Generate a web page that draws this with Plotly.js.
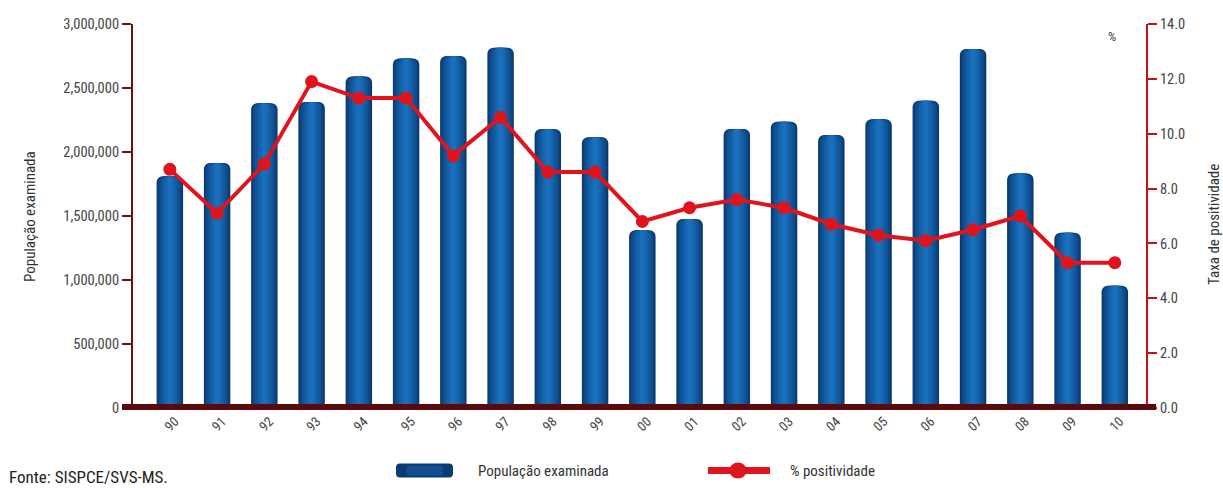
<!DOCTYPE html>
<html>
<head>
<meta charset="utf-8">
<script src="https://cdn.plot.ly/plotly-3.0.1.min.js"></script>
<style>
  html, body { margin: 0; padding: 0; background: #fff; }
  #chart { width: 1223px; height: 488px; }
</style>
</head>
<body>
<div id="chart"></div>
<script>
// Anos (dois dígitos) de 1990 a 2010
const anos = ['90','91','92','93','94','95','96','97','98','99','00',
              '01','02','03','04','05','06','07','08','09','10'];

// População examinada (eixo esquerdo)
const populacao = [1810000, 1915000, 2380000, 2390000, 2590000, 2730000, 2750000,
                   2815000, 2180000, 2115000, 1388000, 1477000, 2180000, 2237000,
                   2133000, 2255000, 2400000, 2805000, 1833000, 1370000, 955000];

// Taxa de positividade em % (eixo direito)
const positividade = [8.7, 7.1, 8.9, 11.9, 11.3, 11.3, 9.2, 10.6, 8.6, 8.6, 6.8,
                      7.3, 7.6, 7.3, 6.7, 6.3, 6.1, 6.5, 7.0, 5.3, 5.3];

const FONT = 'Liberation Sans Narrow, Arial Narrow, Roboto Condensed, Liberation Sans, Arial, sans-serif';

// Área de plotagem em pixels (para posicionar legenda e textos em coordenadas "paper")
const PL = 133, PW = 1013, PB = 408, PH = 384;
const px = v => (v - PL) / PW;
const py = v => (PB - v) / PH;

// Barras em camadas sobrepostas, da mais larga (escura) à mais estreita (clara),
// para simular o degradê horizontal de cada coluna.
const camadas = [
  { w: 0.56, c: '#0c3b72' },
  { w: 0.48, c: '#0e4886' },
  { w: 0.40, c: '#105496' },
  { w: 0.30, c: '#135ea6' },
  { w: 0.20, c: '#1667b2' },
  { w: 0.10, c: '#1a6fbb' }
];

const traces = camadas.map(k => ({
  type: 'bar',
  x: anos,
  y: populacao,
  width: anos.map(() => k.w),
  marker: { color: k.c, line: { width: 0 } },
  hoverinfo: 'skip',
  showlegend: false,
  yaxis: 'y'
}));

traces.push({
  type: 'scatter',
  mode: 'lines+markers',
  x: anos,
  y: positividade,
  yaxis: 'y2',
  line: { color: '#e0141c', width: 4 },
  marker: { color: '#e0141c', size: 13 },
  hoverinfo: 'skip',
  showlegend: false
});

// amostra arredondada da barra na legenda (em pixels, centrada na âncora)
const amostra = (w, h, r) => {
  const a = w / 2, b = h / 2;
  return `M${-a + r},${-b} H${a - r} Q${a},${-b} ${a},${-b + r} V${b - r} ` +
         `Q${a},${b} ${a - r},${b} H${-a + r} Q${-a},${b} ${-a},${b - r} ` +
         `V${-b + r} Q${-a},${-b} ${-a + r},${-b} Z`;
};

const TICKFONT = { family: FONT, size: 14.5, color: '#444444' };

const layout = {
  width: 1223,
  height: 488,
  margin: { l: PL, r: 1223 - PL - PW, t: PB - PH, b: 488 - PB },
  paper_bgcolor: '#ffffff',
  plot_bgcolor: '#ffffff',
  font: { family: FONT, size: 12, color: '#333333' },
  barmode: 'overlay',
  barcornerradius: 6,
  showlegend: false,
  xaxis: {
    type: 'category',
    range: [-0.78, 20.66],
    tickangle: -45,
    ticks: '',
    ticklabelshift: 5,
    ticklabelstandoff: 2,
    showgrid: false,
    zeroline: false,
    showline: false,
    tickfont: { family: FONT, size: 13.5, color: '#444444' },
    fixedrange: true
  },
  yaxis: {
    range: [0, 3000000],
    tickvals: [0, 500000, 1000000, 1500000, 2000000, 2500000, 3000000],
    tickformat: ',d',
    showgrid: false,
    zeroline: false,
    showline: true,
    linecolor: '#6e1014',
    linewidth: 2,
    ticks: 'outside',
    ticklen: 9,
    tickwidth: 2,
    tickcolor: '#6e1014',
    tickfont: TICKFONT,
    fixedrange: true
  },
  yaxis2: {
    overlaying: 'y',
    side: 'right',
    range: [0, 14],
    dtick: 2,
    tickformat: '.1f',
    showgrid: false,
    zeroline: false,
    showline: true,
    linecolor: '#c8101a',
    linewidth: 2,
    ticks: 'outside',
    ticklen: 9,
    tickwidth: 2,
    tickcolor: '#c8101a',
    tickfont: TICKFONT,
    fixedrange: true
  },
  shapes: [
    // linha de base grossa do eixo das categorias
    { type: 'line', xref: 'paper', yref: 'paper',
      x0: px(122), x1: px(1156), y0: py(407), y1: py(407),
      line: { color: '#5a0a0c', width: 6 } },
    // legenda: amostra da barra
    { type: 'path', xref: 'paper', yref: 'paper',
      xsizemode: 'pixel', ysizemode: 'pixel',
      xanchor: px(424.5), yanchor: py(470.5),
      path: amostra(57, 14, 4),
      fillcolor: '#0c3b72', line: { width: 0 } },
    { type: 'path', xref: 'paper', yref: 'paper',
      xsizemode: 'pixel', ysizemode: 'pixel',
      xanchor: px(424.5), yanchor: py(470.5),
      path: amostra(36, 10, 3),
      fillcolor: '#124f90', line: { width: 0 } },
    // legenda: amostra da linha
    { type: 'line', xref: 'paper', yref: 'paper',
      x0: px(708), x1: px(770), y0: py(470.5), y1: py(470.5),
      line: { color: '#e0141c', width: 7 } },
    { type: 'circle', xref: 'paper', yref: 'paper',
      xsizemode: 'pixel', ysizemode: 'pixel',
      xanchor: px(738), yanchor: py(470.5),
      x0: -8.5, x1: 8.5, y0: -8, y1: 8,
      fillcolor: '#e0141c', line: { width: 0 } }
  ],
  annotations: [
    { text: 'População examinada', xref: 'paper', yref: 'paper',
      x: px(30), y: py(217), textangle: -90,
      showarrow: false, xanchor: 'center', yanchor: 'middle',
      font: { family: FONT, size: 15, color: '#333333' } },
    { text: 'Taxa de positividade', xref: 'paper', yref: 'paper',
      x: px(1214), y: py(225), textangle: -90,
      showarrow: false, xanchor: 'center', yanchor: 'middle',
      font: { family: FONT, size: 15, color: '#333333' } },
    { text: '%', xref: 'paper', yref: 'paper',
      x: px(1112), y: py(37),
      showarrow: false, xanchor: 'center', yanchor: 'middle',
      font: { family: FONT, size: 13, color: '#444444' } },
    { text: 'População examinada', xref: 'paper', yref: 'paper',
      x: px(476), y: py(471),
      showarrow: false, xanchor: 'left', yanchor: 'middle',
      font: { family: FONT, size: 15, color: '#333333' } },
    { text: '% positividade', xref: 'paper', yref: 'paper',
      x: px(788), y: py(471),
      showarrow: false, xanchor: 'left', yanchor: 'middle',
      font: { family: FONT, size: 15, color: '#333333' } },
    { text: 'Fonte: SISPCE/SVS-MS.', xref: 'paper', yref: 'paper',
      x: px(7), y: py(477),
      showarrow: false, xanchor: 'left', yanchor: 'middle',
      font: { family: FONT, size: 17, color: '#222222' } }
  ]
};

Plotly.newPlot('chart', traces, layout, { displayModeBar: false, staticPlot: true });
</script>
</body>
</html>
